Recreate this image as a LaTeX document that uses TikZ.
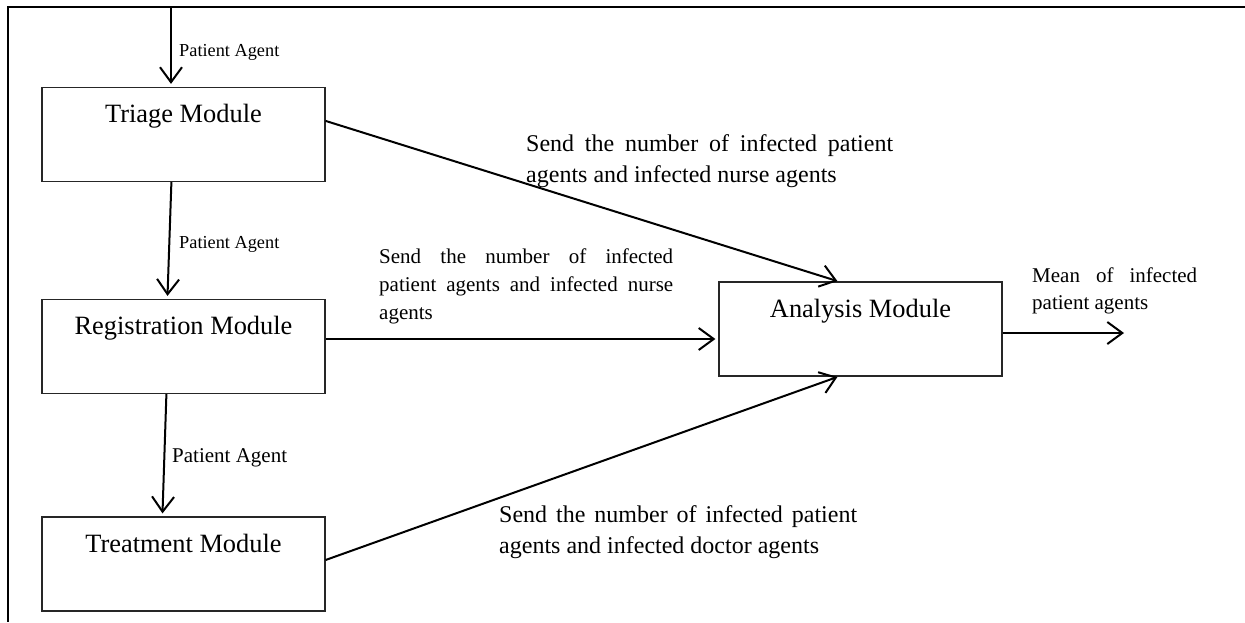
\documentclass[tikz,border=0pt]{standalone}
\usepackage{fontspec}
\setmainfont{Liberation Serif}
\usetikzlibrary{arrows.meta,calc}
\begin{document}
\begin{tikzpicture}[x=1pt,y=-1pt,
  box/.style={draw=black!85, line width=1.2pt, inner sep=0pt, minimum width=283pt,
    text height=35pt, text depth=59pt, font=\fontsize{26.4}{30}\selectfont},
  flow/.style={line width=2pt, -{Straight Barb[length=15pt,width=22pt,line width=2pt]}},
  lbl/.style={inner sep=0pt, anchor=base west, align=left},
  frame/.style={line width=2pt}]
\useasboundingbox (0,0) rectangle (1245,622);
% frame
\coordinate (fr1) at (1245,7);
\coordinate (fr2) at (7.5,7);
\coordinate (fr3) at (7.5,622);
\draw[frame] (fr1) -- (fr2) -- (fr3);
% boxes
\node[box] (tri) at (183.5,134.5) {Triage Module};
\node[box] (reg) at (183.5,346.5) {Registration Module};
\node[box] (trt) at (183.5,564) {Treatment Module};
\node[box] (ana) at (860.5,329) {Analysis Module};
% connectors
\coordinate (entry) at (171,7);
\coordinate (out) at (1124,333);
\draw[flow, shorten >=3pt] (entry) -- (entry |- tri.north);
\draw[flow, shorten >=3pt] ($(tri.south west)+(130,0)$) -- ($(reg.north west)+(126,0)$);
\draw[flow, shorten >=3pt] ($(reg.south west)+(125,0)$) -- ($(trt.north west)+(121,0)$);
\draw[flow, shorten >=1pt] ($(tri.north east)+(0,34)$) -- ($(ana.north west)+(120,0)$);
\draw[flow, shorten >=3pt] ($(reg.east)+(0,-7.5)$) -- ($(ana.west)+(0,10)$);
\draw[flow, shorten >=1pt] ($(trt.east)+(0,-4)$) -- ($(ana.south west)+(120,0)$);
\draw[flow] ($(ana.east)+(0,4)$) -- (out);
% labels (base anchor = baseline of the last line)
\node[lbl, font=\fontsize{18.3}{22}\selectfont] (pa1) at (179,56) {Patient Agent};
\node[lbl, font=\fontsize{18.3}{22}\selectfont] (pa2) at (179,248) {Patient Agent};
\node[lbl, font=\fontsize{21}{25}\selectfont] (pa3) at (172,462) {Patient Agent};
\node[lbl, font=\fontsize{24}{31}\selectfont] (s1) at (526,182)
  {\makebox[367pt][s]{Send the number of infected patient}\\agents and infected nurse agents};
\node[lbl, font=\fontsize{21}{28}\selectfont] (s2) at (379,319)
  {\makebox[294pt][s]{Send the number of infected}\\\makebox[294pt][s]{patient agents and infected nurse}\\agents};
\node[lbl, font=\fontsize{24}{31}\selectfont] (s3) at (499,553)
  {\makebox[358pt][s]{Send the number of infected patient}\\agents and infected doctor agents};
\node[lbl, font=\fontsize{21}{27}\selectfont] (mean) at (1032,309)
  {\makebox[165pt][s]{Mean of infected}\\patient agents};
\end{tikzpicture}
\end{document}
